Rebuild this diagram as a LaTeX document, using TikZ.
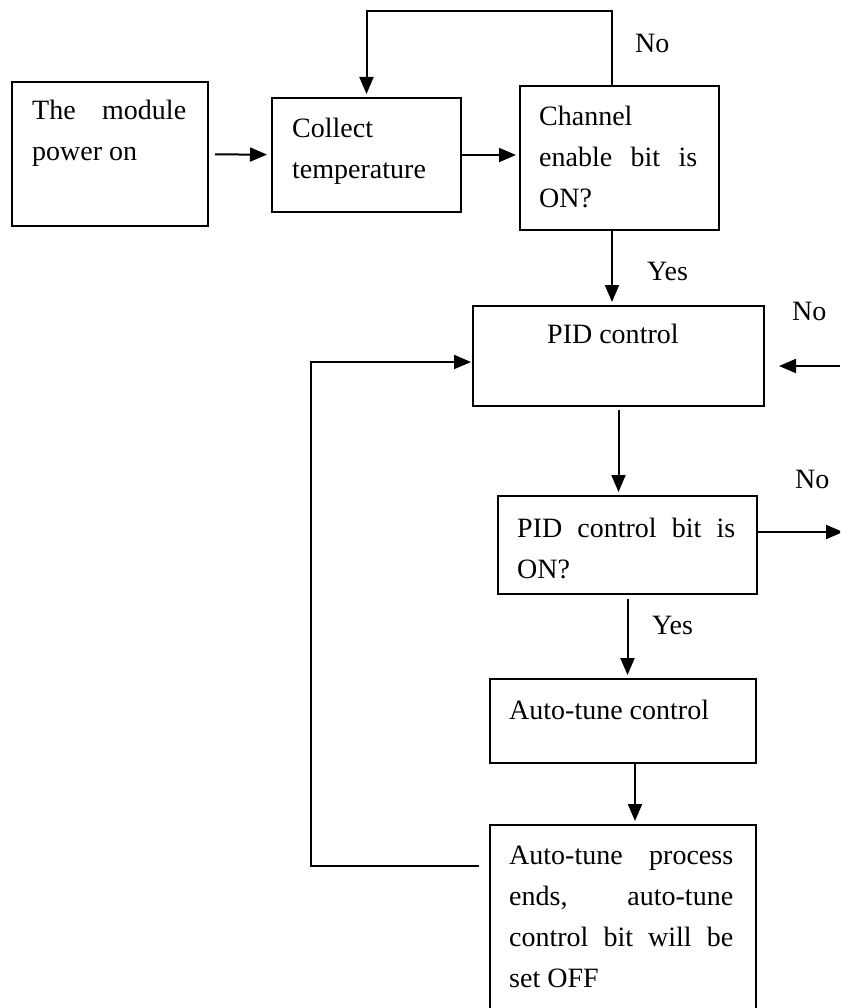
\documentclass[tikz,border=0pt]{standalone}
\usepackage{fontspec}
\setmainfont{Liberation Serif}
\usetikzlibrary{arrows.meta}
\begin{document}
\begin{tikzpicture}[x=1pt,y=-1pt,
  box/.style={draw, line width=2pt, inner sep=0pt, anchor=north west},
  txt/.style={anchor=base west, inner sep=0pt, font=\fontsize{28}{41}\selectfont},
  lbl/.style={anchor=base west, inner sep=0pt, font=\fontsize{28}{34}\selectfont},
  wire/.style={line width=2pt},
  arr/.style={wire, -{Triangle[length=17pt,width=14pt]}, shorten >=3pt}]
\useasboundingbox (0,0) rectangle (840,1008);
\clip (0,0) rectangle (840,1008);

% boxes
\node[box, minimum width=196pt, minimum height=144pt] (b1) at (11,81) {};
\node[box, minimum width=189pt, minimum height=114pt] (b2) at (271,97) {};
\node[box, minimum width=199pt, minimum height=144pt] (b3) at (519,85) {};
\node[box, minimum width=291pt, minimum height=100pt] (b4) at (472,305) {};
\node[box, minimum width=259pt, minimum height=98pt]  (b5) at (497,495) {};
\node[box, minimum width=266pt, minimum height=84pt]  (b6) at (489,678) {};
\node[box, minimum width=266pt, minimum height=200pt] (b7) at (489,824) {};

% box texts
\node[txt] (t1) at (32,120) {\parbox[t]{154pt}{\makebox[154pt][s]{The module}\\power on}};
\node[txt] (t2) at (292,138) {\parbox[t]{150pt}{Collect\\temperature}};
\node[txt] (t3) at (539,126) {\parbox[t]{158pt}{Channel\\\makebox[158pt][s]{enable bit is}\\ON?}};
\node[txt] (t4) at (547,343) {PID control};
\node[txt] (t5) at (517,537) {\parbox[t]{218pt}{\makebox[218pt][s]{PID control bit is}\\ON?}};
\node[txt] (t6) at (509,719) {Auto-tune control};
\node[txt] (t7) at (509,864) {\parbox[t]{224pt}{\makebox[224pt][s]{Auto-tune process}\\\makebox[224pt][s]{ends, auto-tune}\\\makebox[224pt][s]{control bit will be}\\set OFF}};

% branch labels
\node[lbl] (n1) at (635,53) {No};
\node[lbl] (y1) at (647,280) {Yes};
\node[lbl] (n2) at (792,320) {No};
\node[lbl] (n3) at (795,488) {No};
\node[lbl] (y2) at (652,634) {Yes};

% connector corners and free ends
\coordinate (c1) at (612,11);
\coordinate (rin) at (840,366);
\coordinate (rout) at (843,532);
\coordinate (lp) at (311,362);
\coordinate (lq) at (479,866);

% connectors
\draw[arr, shorten <=6pt, shorten >=4pt] (b1) -- (b2);
\draw[arr] (b2.east) -- (b2.east -| b3.west);
\draw[arr] (b3.north -| c1) -- (c1) -| (b2.north);
\draw[arr] (b3.south -| c1) -- (b4.north -| c1);
\draw[arr, shorten >=14pt] (rin) -- (rin -| b4.east);
\draw[arr, shorten <=3pt] (b4.south) -- (b4.south |- b5.north);
\draw[arr, shorten >=0pt] (b5.east |- rout) -- (rout);
\draw[arr, shorten <=4pt] (b5.south) -- (b5.south |- b6.north);
\draw[arr] ([xshift=12pt]b6.south) -- ([xshift=12pt]b6.south |- b7.north);
\draw[arr, shorten >=1pt] (lq) -| (lp) -- (lp -| b4.west);
\end{tikzpicture}
\end{document}
